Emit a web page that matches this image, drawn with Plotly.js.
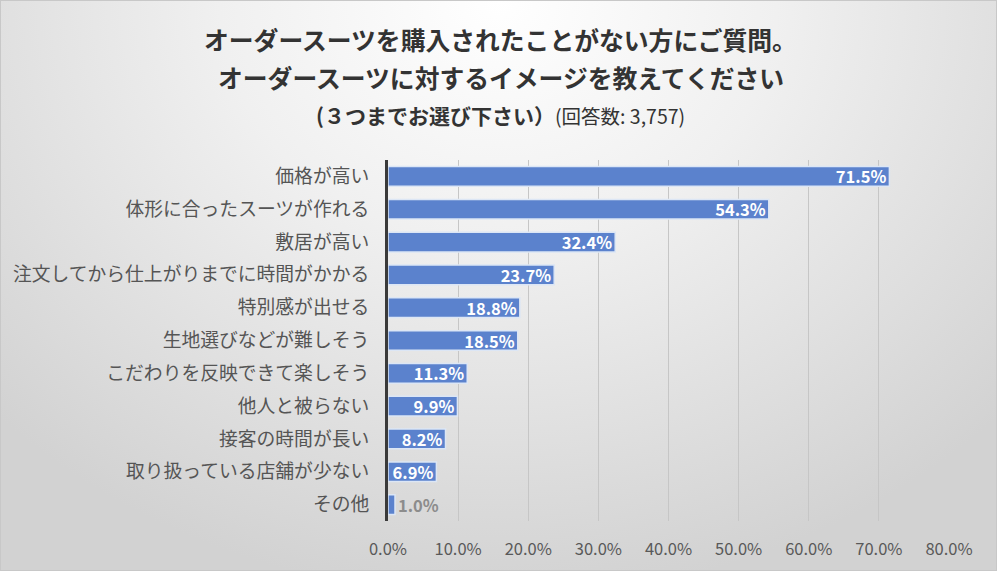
<!DOCTYPE html>
<html><head><meta charset="utf-8">
<script src="https://cdn.plot.ly/plotly-3.0.1.min.js"></script>
<style>
html,body{margin:0;padding:0;}
#wrap{width:997px;height:571px;box-sizing:border-box;border:1px solid #c8c8c8;
background:radial-gradient(ellipse 70% 105% at 50% 0%, #ffffff 0%, #f0f0f0 40%, #d2d2d2 100%);}
#chart{width:995px;height:569px;}
</style></head>
<body><div id="wrap"><div id="chart"></div></div>
<script>
const categories = ["価格が高い","体形に合ったスーツが作れる","敷居が高い","注文してから仕上がりまでに時間がかかる","特別感が出せる","生地選びなどが難しそう","こだわりを反映できて楽しそう","他人と被らない","接客の時間が長い","取り扱っている店舗が少ない","その他"];
const values = [71.5,54.3,32.4,23.7,18.8,18.5,11.3,9.9,8.2,6.9,1.0];
const labelPositions = ["inside","inside","inside","inside","inside","inside","inside","inside","inside","inside","outside"];
const xTickValues = [0,10,20,30,40,50,60,70,80];
const titleLine1 = "オーダースーツを購入されたことがない方にご質問。";
const titleLine2 = "オーダースーツに対するイメージを教えてください";
const titleLine3a = "(３つまでお選び下さい）";
const titleLine3b = "(回答数: 3,757)";

const F = '"Noto Sans CJK JP", "Noto Sans", sans-serif';
const trace = {
  type:'bar', orientation:'h',
  y: categories, x: values,
  text: values.map(v => v.toFixed(1) + '%'),
  textposition: labelPositions,
  insidetextanchor: 'end',
  constraintext: 'none',
  cliponaxis: false,
  insidetextfont: {family:F, size:16.5, color:'#ffffff', weight:'bold'},
  outsidetextfont: {family:F, size:16.5, color:'#8c8c8c', weight:'bold'},
  marker: {color:'#5b82cd', line:{color:'#dce6f5', width:1.5}},
  width: 0.6,
  hoverinfo:'none'
};
const layout = {
  width:995, height:569,
  paper_bgcolor:'rgba(0,0,0,0)', plot_bgcolor:'rgba(0,0,0,0)',
  margin:{l:387, r:47, t:159, b:49},
  showlegend:false,
  font:{family:F, color:'#404040'},
  xaxis:{range:[0,80], tickvals:xTickValues, ticktext:xTickValues.map(v=>v.toFixed(1)+'%'),
    showgrid:true, gridcolor:'#c6c6c6', gridwidth:1, zeroline:false, showline:false,
    ticks:'', ticklabelstandoff:16, tickfont:{family:F, size:16.5, color:'#595959'}, fixedrange:true},
  yaxis:{autorange:'reversed', showline:true, linecolor:'#3a3a3a', linewidth:3,
    ticks:'', ticklabelstandoff:12, tickfont:{family:F, size:18.8, color:'#555555'}, fixedrange:true},
  annotations:[
    {text:'<b>'+titleLine1+'</b>', xref:'paper', yref:'paper', x:0.5, xanchor:'center', y:1, yanchor:'middle', yshift:121,
     showarrow:false, font:{family:F, size:24.8, color:'#333333'}, xshift:-168},
    {text:'<b>'+titleLine2+'</b>', xref:'paper', yref:'paper', x:0.5, xanchor:'center', y:1, yanchor:'middle', yshift:83,
     showarrow:false, font:{family:F, size:24.8, color:'#333333'}, xshift:-168},
    {text:'<b>'+titleLine3a+'</b><span style="font-size:19.5px">'+titleLine3b+'</span>', xref:'paper', yref:'paper', x:0.5, xanchor:'center', y:1, yanchor:'middle', yshift:45,
     showarrow:false, font:{family:F, size:21, color:'#333333'}, xshift:-168}
  ]
};
Plotly.newPlot('chart',[trace],layout,{displayModeBar:false, staticPlot:true});
</script></body></html>
